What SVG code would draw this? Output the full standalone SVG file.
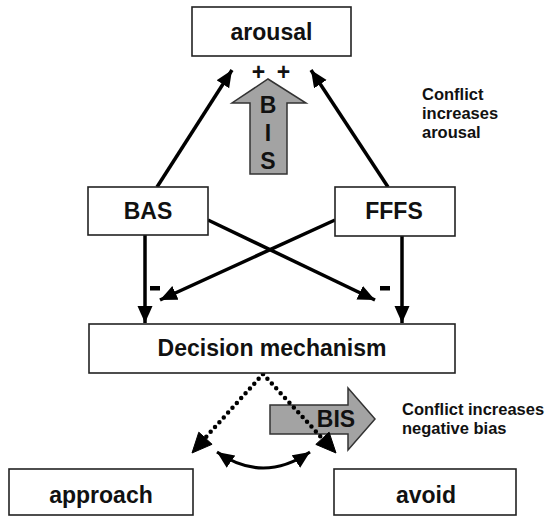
<svg xmlns="http://www.w3.org/2000/svg" width="555" height="516" viewBox="0 0 555 516">
  <style>
    .box { fill: #fff; stroke: #222; stroke-width: 1.6; }
    .lbl { font-family: "Liberation Sans", Arial, sans-serif; font-weight: bold; font-size: 23px; fill: #111; text-anchor: middle; }
    .note { font-family: "Liberation Sans", Arial, sans-serif; font-weight: bold; font-size: 16.5px; fill: #111; }
    .edge { fill: none; stroke: #000; stroke-width: 3.5; }
    .curve { fill: none; stroke: #000; stroke-width: 3; }
    .dots { fill: none; stroke: #000; stroke-width: 4.5; stroke-dasharray: 0 6.5; stroke-linecap: round; }
    .fat { fill: #a3a3a3; stroke: #333; stroke-width: 1.5; }
    .sign { fill: #000; }
  </style>
  <defs>
    <marker id="head" markerUnits="userSpaceOnUse" markerWidth="18" markerHeight="16" refX="17" refY="7.5" orient="auto-start-reverse">
      <path d="M0,0 L17,7.5 L0,15 z" fill="#000"/>
    </marker>
  </defs>

  <rect width="555" height="516" fill="#fff"/>

  <!-- wide BIS arrows -->
  <g id="bis-up">
    <path class="fat" d="M250,174 L250,103 L232,103 L268,79 L306,103 L287,103 L287,174 z"/>
    <text class="lbl" x="268" y="113" font-size="21">B</text>
    <text class="lbl" x="268" y="141" font-size="21">I</text>
    <text class="lbl" x="268" y="169" font-size="21">S</text>
  </g>
  <g id="bis-right">
    <path class="fat" d="M270,405 L348,405 L348,388 L375,419 L348,450 L348,434 L270,434 z"/>
  </g>

  <!-- connectors -->
  <g id="connectors">
    <line class="edge" x1="157" y1="187" x2="232" y2="70" marker-end="url(#head)"/>
    <line class="edge" x1="388" y1="187" x2="311" y2="70" marker-end="url(#head)"/>
    <line class="edge" x1="145" y1="235" x2="145" y2="323" marker-end="url(#head)"/>
    <line class="edge" x1="402" y1="236" x2="402" y2="323" marker-end="url(#head)"/>
    <line class="edge" x1="208" y1="220" x2="375" y2="300" marker-end="url(#head)"/>
    <line class="edge" x1="335" y1="220" x2="160" y2="300" marker-end="url(#head)"/>
    <!-- dotted choice paths with solid heads -->
    <path class="dots" d="M263,374 L206,437"/>
    <path class="dots" d="M263,374 L321,437"/>
    <path d="M192,453 L212.1,444.3 L198.8,432.2 Z" fill="#000" stroke="#000" stroke-width="1"/>
    <path d="M336,453 L329.1,432.2 L315.8,444.4 Z" fill="#000" stroke="#000" stroke-width="1"/>
    <path class="curve" d="M217,452 Q263,484 310,452" marker-start="url(#head)" marker-end="url(#head)"/>
  </g>

  <text class="lbl" x="336" y="427" font-size="22">BIS</text>

  <!-- signs -->
  <text class="lbl" x="271" y="80" font-size="24" word-spacing="5">+ +</text>
  <rect class="sign" x="150" y="286" width="10" height="4.5"/>
  <rect class="sign" x="380" y="286" width="10" height="4.5"/>

  <!-- nodes -->
  <g id="arousal">
    <rect class="box" x="192" y="7" width="159" height="49"/>
    <text class="lbl" x="271.5" y="40">arousal</text>
  </g>
  <g id="bas">
    <rect class="box" x="88" y="187" width="120" height="48"/>
    <text class="lbl" x="148" y="219">BAS</text>
  </g>
  <g id="fffs">
    <rect class="box" x="335" y="187" width="120" height="49"/>
    <text class="lbl" x="394" y="219">FFFS</text>
  </g>
  <g id="decision">
    <rect class="box" x="89" y="324" width="366" height="49"/>
    <text class="lbl" x="272" y="356">Decision mechanism</text>
  </g>
  <g id="approach">
    <rect class="box" x="9" y="469" width="184" height="46"/>
    <text class="lbl" x="101" y="503">approach</text>
  </g>
  <g id="avoid">
    <rect class="box" x="334" y="469" width="182" height="46"/>
    <text class="lbl" x="426" y="503">avoid</text>
  </g>

  <!-- annotations -->
  <text class="note" x="422" y="100">Conflict</text>
  <text class="note" x="422" y="119">increases</text>
  <text class="note" x="422" y="138">arousal</text>
  <text class="note" x="402" y="415">Conflict increases</text>
  <text class="note" x="402" y="434">negative bias</text>
</svg>
